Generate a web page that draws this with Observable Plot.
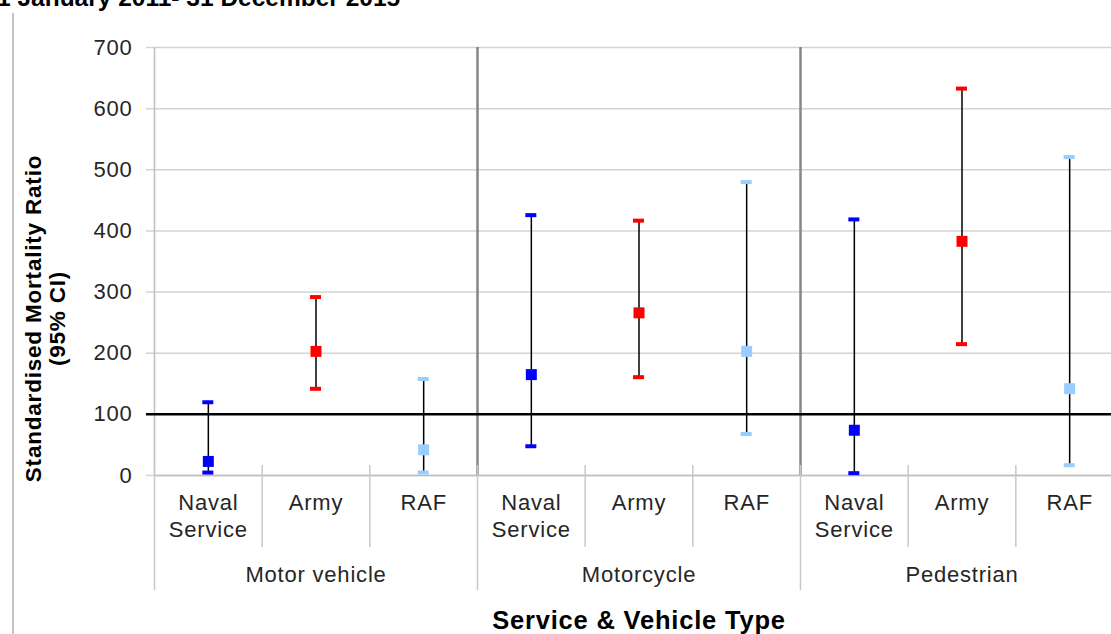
<!DOCTYPE html>
<html>
<head>
<meta charset="utf-8">
<script src="https://cdn.jsdelivr.net/npm/d3@7"></script>
<script src="https://cdn.jsdelivr.net/npm/@observablehq/plot@0.6"></script>
<style>
  html, body { margin: 0; padding: 0; background: #fff; overflow: hidden; width: 1111px; height: 634px; }
  #wrap { position: relative; width: 1111px; height: 634px; overflow: hidden; }
  #title { position: absolute; left: -3px; top: -14px; font: bold 24.5px "Liberation Sans", Arial, sans-serif; line-height: 1; color: #000; white-space: nowrap; }
  #frame { position: absolute; left: 12px; top: 13px; bottom: 0; width: 1.5px; background: #c4c4c4; }
  #chart { position: absolute; left: 0; top: 0; }
  #chart svg { max-width: none !important; }
</style>
</head>
<body>
<div id="wrap">
  <div id="frame"></div>
  <div id="chart"></div>
  <div id="title">1 January 2011- 31 December 2015</div>
</div>
<script>
// ---- data ----
const groups = ["Motor vehicle", "Motorcycle", "Pedestrian"];
const services = ["Naval Service", "Army", "RAF"];
const serviceLabels = ["Naval\nService", "Army", "RAF"];
const serviceColors = ["#0000ff", "#ff0000", "#99ccff"];
// order: group by group, service within group
const smr   = [23, 203, 42, 165, 266, 203, 74, 383, 142];
const lower = [4, 141, 4, 47, 160, 67, 3, 214, 16];
const upper = [119, 291, 157, 425, 416, 479, 418, 632, 520];
const yTicks = [0, 100, 200, 300, 400, 500, 600, 700];
const reference = [100];
const yTitle = "Standardised Mortality Ratio\n(95% CI)";
const xTitle = "Service & Vehicle Type";

// ---- table ----
const rows = [];
groups.forEach((g, gi) => services.forEach((s, si) => {
  const i = gi * services.length + si;
  rows.push({i, group: g, service: s, label: serviceLabels[si], smr: smr[i], lo: lower[i], hi: upper[i]});
}));
const n = rows.length;
const groupBounds = d3.range(0, n + 1, services.length);
const innerGroupBounds = groupBounds.filter(b => b > 0 && b < n);
const subBounds = d3.range(0, n + 1).filter(b => b % services.length !== 0);
const cx = d => d.i + 0.5;

const font = '"Liberation Sans", Arial, sans-serif';

const chart = Plot.plot({
  width: 1125,
  height: 634,
  marginLeft: 154,
  marginRight: 2,
  marginTop: 47,
  marginBottom: 159,
  style: {fontFamily: font, fontSize: "22px", background: "transparent", overflow: "visible", maxWidth: "none", letterSpacing: "0.8px"},
  x: {domain: [0, n], axis: null},
  y: {domain: [0, 700], axis: null},
  color: {domain: services, range: serviceColors},
  marks: [
    // gridlines (extend left as tick marks)
    Plot.ruleY(yTicks, {stroke: "#d4d4d4", strokeWidth: 1.5, insetLeft: -8}),
    // y tick labels
    Plot.axisY({ticks: yTicks, tickSize: 0, tickPadding: 22, tickFormat: d => String(d), fontSize: 22, color: "#262626", label: null}),
    // y axis line
    Plot.ruleX([0], {stroke: "#bdbdbd", strokeWidth: 1.5}),
    // x axis line
    Plot.ruleY([0], {stroke: "#bdbdbd", strokeWidth: 1.5}),
    // group dividers inside the plot
    Plot.ruleX(innerGroupBounds, {stroke: "#868686", strokeWidth: 2.5}),
    // category axis separators below the plot
    Plot.ruleX(subBounds, {y1: () => 0, y2: () => 0, insetTop: -10, insetBottom: -72, stroke: "#c8c8c8", strokeWidth: 1.5}),
    Plot.ruleX(groupBounds, {y1: () => 0, y2: () => 0, insetTop: -10, insetBottom: -115, stroke: "#c8c8c8", strokeWidth: 1.5}),
    // reference line at 100
    Plot.ruleY(reference, {stroke: "#000", strokeWidth: 2.5, insetLeft: -8}),
    // error bars
    Plot.ruleX(rows, {x: cx, y1: "lo", y2: "hi", stroke: "#000", strokeWidth: 1.5}),
    // caps
    Plot.rect(rows, {x1: cx, x2: cx, y1: "hi", y2: "hi", insetLeft: -5.5, insetRight: -5.5, insetTop: -2, insetBottom: -2, fill: "service"}),
    Plot.rect(rows, {x1: cx, x2: cx, y1: "lo", y2: "lo", insetLeft: -5.5, insetRight: -5.5, insetTop: -2, insetBottom: -2, fill: "service"}),
    // point estimates
    Plot.dot(rows, {x: cx, y: "smr", symbol: "square", r: 6.2, fill: "service", stroke: null}),
    // service labels
    Plot.text(rows, {x: cx, y: () => 0, text: "label", lineAnchor: "top", dy: 15, lineHeight: 1.24, fontSize: 22, fill: "#262626"}),
    // group labels
    Plot.text(groups, {x: (d, k) => k * services.length + services.length / 2, y: () => 0, text: d => d, lineAnchor: "top", dy: 91, fontSize: 22, fill: "#262626"}),
    // x title
    Plot.text([xTitle], {x: () => n / 2, y: () => 0, text: d => d, lineAnchor: "top", dy: 135, fontSize: 25.5, fontWeight: "bold", fill: "#000"}),
    // y title
    Plot.text([yTitle], {frameAnchor: "left", textAnchor: "middle", text: d => d, rotate: -90, dx: -109, dy: 57, fontSize: 22.5, fontWeight: "bold", lineHeight: 1.07, fill: "#000"})
  ]
});
document.getElementById("chart").appendChild(chart);
</script>
</body>
</html>
